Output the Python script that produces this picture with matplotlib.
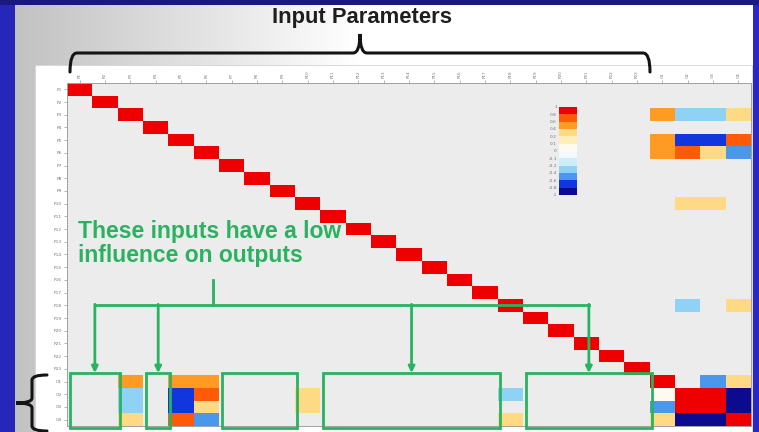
import matplotlib.pyplot as plt
import numpy as np
from matplotlib.colors import ListedColormap, BoundaryNorm
from matplotlib.cm import ScalarMappable
from matplotlib.patches import Rectangle, PathPatch
from matplotlib.path import Path

W, H = 759, 432

# 23 input parameters followed by 4 outputs
inputs = [f'P{i}' for i in range(1, 24)]
outputs = [f'O{i}' for i in range(1, 5)]
labels = inputs + outputs

# inputs with a visible correlation to the outputs (1-based)
linked_inputs = [3, 5, 6, 10, 18]
input_output_corr = [
    [0.5, -0.3, -0.3, 0.3],
    [0.5, -0.7, -0.7, 0.7],
    [0.5, 0.7, 0.3, -0.5],
    [np.nan, 0.3, 0.3, np.nan],
    [np.nan, -0.3, np.nan, 0.3],
]
output_corr = [
    [1.0, np.nan, -0.5, 0.3],
    [0.05, 1.0, 1.0, -0.9],
    [-0.5, 1.0, 1.0, -0.9],
    [0.3, -0.9, -0.9, 1.0],
]

# colour scale
bounds = [-1, -0.8, -0.6, -0.4, -0.2, -0.1, 0, 0.1, 0.2, 0.4, 0.6, 0.8, 1]
bin_colors = ['#0c0a8e', '#1236de', '#4b97ec', '#90d2f6', '#cdedfb', '#f3faff',
              '#fffaf0', '#ffeeb8', '#ffda85', '#ff9a22', '#ff5a08', '#ee0000']

# input columns (1-based, inclusive) boxed as low-influence
low_groups = [(1, 2), (4, 4), (7, 9), (11, 17), (19, 23)]
arrow_groups = [0, 1, 3, 4]

green = '#2ab260'

n = len(labels)
ni = len(inputs)
corr = np.full((n, n), np.nan)
np.fill_diagonal(corr[:ni, :ni], 1.0)
idx = np.array(linked_inputs) - 1
io = np.array(input_output_corr)
corr[idx, ni:] = io
corr[ni:, idx] = io.T
corr[ni:, ni:] = np.array(output_corr)

cmap = ListedColormap(bin_colors)
cmap.set_bad((0, 0, 0, 0))
norm = BoundaryNorm(bounds, cmap.N)

fig = plt.figure(figsize=(W / 100, H / 100), dpi=100)
fig.patch.set_facecolor('#1a1a7e')

# slide background, drawn in pixel coordinates
bg = fig.add_axes([0, 0, 1, 1], zorder=0)
bg.axis('off')
bg.add_patch(Rectangle((0, 5), 15, H, color='#2626b8', lw=0))
bg.add_patch(Rectangle((753, 5), 10, H, color='#2828c4', lw=0))
grad = np.linspace(0.76, 1.0, 256)[None, :]
bg.imshow(np.dstack([grad, grad, grad]), extent=(15, 360, H, 5), aspect='auto')
bg.add_patch(Rectangle((359, 5), 394, H, color='white', lw=0))
bg.add_patch(Rectangle((35, 65), 717, H, facecolor='white', edgecolor='#d4d4d4', lw=0.6))
bg.set_xlim(0, W)
bg.set_ylim(H, 0)

bg.text(362, 17, 'Input Parameters', ha='center', va='center', fontsize=15.8,
        fontweight='bold', color='#1e1e1e', family='Liberation Sans')


def brace(ax, a0, a1, line, tip, peak, vertical=False, r=7):
    am = (a0 + a1) / 2
    pts = [(a0, tip), (a0, line), (a0 + r, line), (am - r, line), (am, line),
           (am, peak), (am, line), (am + r, line), (a1 - r, line), (a1, line),
           (a1, tip)]
    if vertical:
        pts = [(b, a) for a, b in pts]
    codes = [Path.MOVETO, Path.CURVE3, Path.CURVE3, Path.LINETO, Path.CURVE3,
             Path.CURVE3, Path.CURVE3, Path.CURVE3, Path.LINETO, Path.CURVE3,
             Path.CURVE3]
    ax.add_patch(PathPatch(Path(pts, codes), fill=False, lw=2.2,
                           edgecolor='#141414', capstyle='round'))


brace(bg, 70, 650, 53, 72, 34)
brace(bg, 375, 431, 32, 47, 16, vertical=True, r=5)

# correlation matrix
ax = fig.add_axes([67 / W, 1 - 426 / H, 684 / W, 343 / H], zorder=1)
ax.set_facecolor('#ececec')
ax.imshow(corr, cmap=cmap, norm=norm, aspect='auto', interpolation='nearest',
          extent=(0, n, n, 0))
ax.set_xlim(0, n)
ax.set_ylim(n, 0)
ax.xaxis.tick_top()
ax.set_xticks(np.arange(n) + 0.5)
ax.set_xticklabels(labels, rotation=90, fontsize=3, color='#777777')
ax.set_yticks(np.arange(n) + 0.5)
ax.set_yticklabels(labels, fontsize=3.2, color='#777777')
ax.tick_params(length=2, width=0.5, color='#999999', pad=1.5)
for s in ax.spines.values():
    s.set_color('#a0a0a0')
    s.set_linewidth(0.7)

# green annotations
ax.text(0.45, 10.75, 'These inputs have a low\ninfluence on outputs', ha='left',
        va='top', fontsize=16.5, fontweight='bold', color=green,
        family='Liberation Sans', linespacing=1.08)

box_top = 22.83
bar_y = 17.5
centers = []
for c0, c1 in low_groups:
    x0 = c0 - 1 + 0.12
    x1 = c1 + 0.08
    ax.add_patch(Rectangle((x0, box_top), x1 - x0, 4.35, fill=False,
                           edgecolor=green, lw=2, clip_on=False, zorder=5))
    centers.append((x0 + x1) / 2)

ax.plot([centers[arrow_groups[0]], centers[arrow_groups[-1]]], [bar_y, bar_y],
        color=green, lw=2, clip_on=False, zorder=5)
ax.plot([5.76, 5.76], [15.5, bar_y], color=green, lw=2, clip_on=False, zorder=5)
for g in arrow_groups:
    ax.annotate('', xy=(centers[g], box_top), xytext=(centers[g], bar_y - 0.08),
                arrowprops=dict(arrowstyle='-|>', color=green, lw=2,
                                mutation_scale=9, shrinkA=0, shrinkB=0),
                zorder=5, annotation_clip=False)

# colour bar
cax = fig.add_axes([559 / W, 1 - 195 / H, 18 / W, 88 / H], zorder=2)
cb = fig.colorbar(ScalarMappable(norm=norm, cmap=cmap), cax=cax,
                  spacing='uniform', ticks=bounds)
cb.outline.set_visible(False)
cax.yaxis.set_ticks_position('left')
cax.set_yticklabels([f'{b:g}' for b in bounds])
cax.tick_params(labelsize=3.2, length=0, pad=1.5, labelcolor='#777777')

fig.savefig('out.png', dpi=100)
